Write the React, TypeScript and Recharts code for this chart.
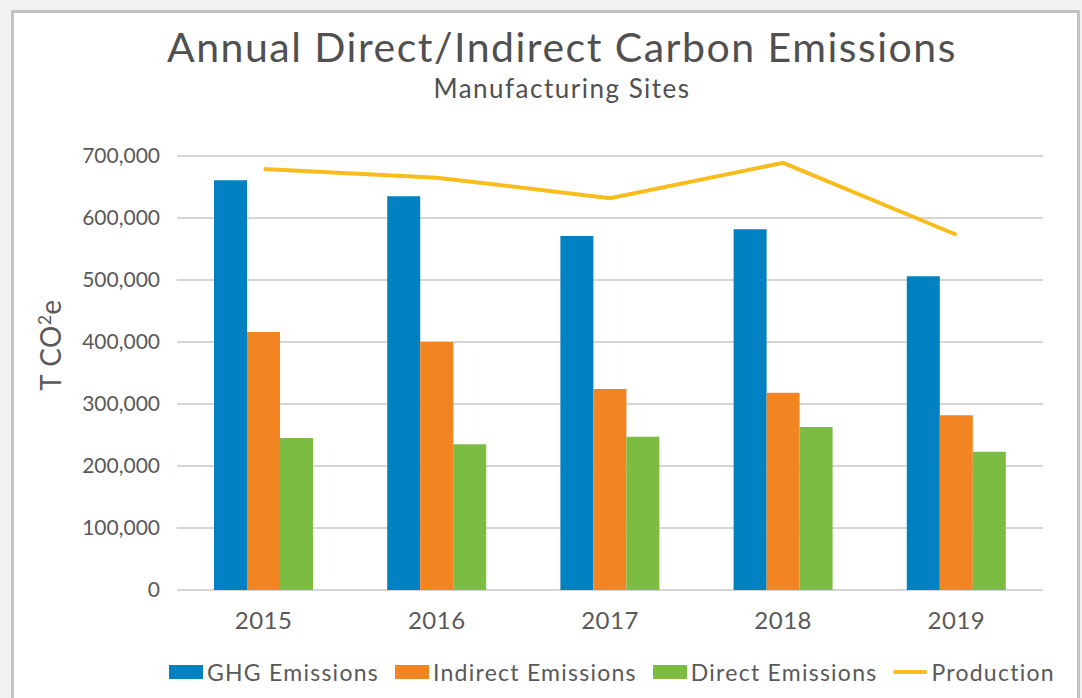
import {
  ComposedChart,
  Bar,
  Line,
  XAxis,
  YAxis,
  CartesianGrid
} from 'recharts'

const years = ['2015', '2016', '2017', '2018', '2019']
const ghgEmissions = [661000, 635000, 571000, 582000, 506000]
const indirectEmissions = [416000, 400000, 324000, 318000, 282000]
const directEmissions = [245000, 235000, 247000, 263000, 223000]
const production = [679000, 665000, 632000, 689000, 573000]
const yTicks = [0, 100000, 200000, 300000, 400000, 500000, 600000, 700000]

const series = [
  { key: 'ghg', name: 'GHG Emissions', color: '#0081C1', kind: 'bar' },
  { key: 'indirect', name: 'Indirect Emissions', color: '#F28522', kind: 'bar' },
  { key: 'direct', name: 'Direct Emissions', color: '#7DBC42', kind: 'bar' },
  { key: 'production', name: 'Production', color: '#F8BD1C', kind: 'line' }
]

const data = years.map((year, i) => ({
  year,
  ghg: ghgEmissions[i],
  indirect: indirectEmissions[i],
  direct: directEmissions[i],
  production: production[i]
}))

const font = 'Lato, "Open Sans", sans-serif'
const textColor = '#595959'

export default function App() {
  return (
    <div
      style={{
        position: 'fixed',
        left: 0,
        top: 0,
        width: 1082,
        height: 698,
        background: '#f1f1f1',
        overflow: 'hidden',
        fontFamily: font
      }}
    >
      <div
        style={{
          position: 'absolute',
          left: 11,
          top: 10,
          width: 1063,
          height: 720,
          background: '#fff',
          border: '3px solid #c3c3c7'
        }}
      />
      <div
        style={{
          position: 'absolute',
          left: 0,
          top: 0,
          width: 1082,
          height: 698
        }}
      >
        <ComposedChart
          width={1082}
          height={698}
          data={data}
          margin={{ top: 156, right: 39, bottom: 62, left: 77 }}
          barGap={0}
        >
          <CartesianGrid
            vertical={false}
            stroke='#d6d6d6'
            strokeWidth={2}
          />
          <XAxis
            dataKey='year'
            axisLine={false}
            tickLine={false}
            height={46}
            tickMargin={16}
            tick={{ fill: textColor, fontSize: 24, fontFamily: font, letterSpacing: 0.5 }}
          />
          <YAxis
            width={100}
            domain={[0, 700000]}
            ticks={yTicks}
            interval={0}
            axisLine={false}
            tickLine={false}
            tickMargin={11}
            tickFormatter={v => v.toLocaleString('en-US')}
            tick={{ fill: textColor, fontSize: 21, fontFamily: font }}
          />
          {series
            .filter(s => s.kind === 'bar')
            .map(s => (
              <Bar
                key={s.key}
                dataKey={s.key}
                name={s.name}
                fill={s.color}
                barSize={33}
                isAnimationActive={false}
              />
            ))}
          <Line
            dataKey='production'
            name='Production'
            type='linear'
            stroke='#F8BD1C'
            strokeWidth={4}
            dot={false}
            activeDot={false}
            isAnimationActive={false}
          />
        </ComposedChart>
      </div>

      <div
        style={{
          position: 'absolute',
          left: 0,
          width: 1124,
          top: 22,
          textAlign: 'center',
          fontSize: 41,
          letterSpacing: 1.5,
          color: '#505050'
        }}
      >
        Annual Direct/Indirect Carbon Emissions
      </div>
      <div
        style={{
          position: 'absolute',
          left: 0,
          width: 1124,
          top: 72,
          textAlign: 'center',
          fontSize: 26,
          letterSpacing: 1.5,
          color: '#505050'
        }}
      >
        Manufacturing Sites
      </div>

      <div
        style={{
          position: 'absolute',
          left: 50,
          top: 345,
          transform: 'translate(-50%, -50%) rotate(-90deg)',
          fontSize: 28,
          letterSpacing: 0.5,
          color: textColor,
          whiteSpace: 'nowrap'
        }}
      >
        T CO<sup style={{ fontSize: 17 }}>2</sup>e
      </div>

      <div
        style={{
          position: 'absolute',
          left: 169,
          top: 658,
          display: 'flex',
          alignItems: 'center',
          fontSize: 23,
          letterSpacing: 1.25,
          color: textColor,
          whiteSpace: 'nowrap'
        }}
      >
        {series.map(s => (
          <div
            key={s.key}
            style={{ display: 'flex', alignItems: 'center', marginRight: 16 }}
          >
            <div
              style={{
                width: 34,
                height: s.kind === 'bar' ? 14 : 4,
                borderRadius: s.kind === 'bar' ? 0 : 2,
                background: s.color,
                marginRight: 4
              }}
            />
            <span>{s.name}</span>
          </div>
        ))}
      </div>
    </div>
  )
}
